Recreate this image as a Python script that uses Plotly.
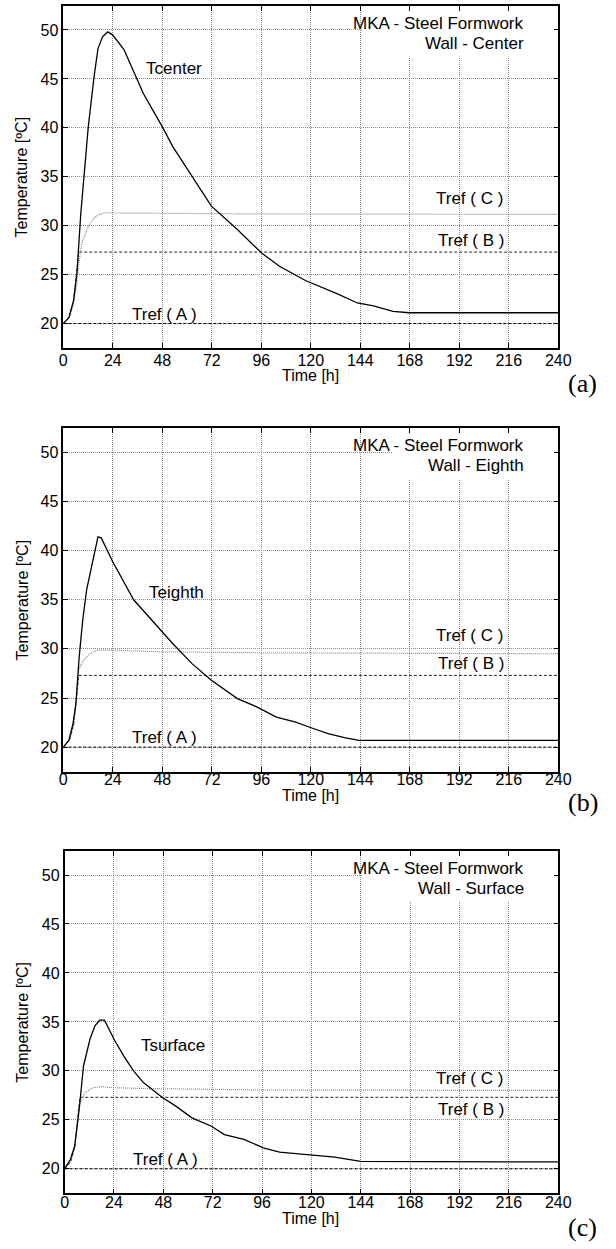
import plotly.graph_objects as go

# ---------------- data ----------------
x_ticks = [0, 24, 48, 72, 96, 120, 144, 168, 192, 216, 240]
y_ticks = [20, 25, 30, 35, 40, 45, 50]

# Panel (a) - Wall Center
t_center = [0, 2.7, 5.0, 6.6, 8.5, 9.75, 12.1, 14.9, 16.8, 19, 21.5, 23.9, 29.4, 38.8, 48.3, 53,
            62.4, 71.8, 84.4, 96.2, 104.8, 117.4, 133.2, 142.6, 150.4, 159.9, 167.7, 240]
T_center = [20, 20.6, 22.4, 25.2, 31.3, 34.7, 40.1, 45.2, 48.1, 49.3, 49.8, 49.5, 48.0, 43.5, 40.0, 38.1,
            35.0, 32.0, 29.6, 27.2, 25.85, 24.4, 23.0, 22.1, 21.8, 21.25, 21.1, 21.1]
t_refC_a = [0, 3, 5, 6.5, 7.4, 9, 12.1, 14.5, 16.8, 20, 23, 48, 96, 240]
T_refC_a = [20, 20.7, 22, 24, 25.85, 28.3, 29.9, 30.7, 31.1, 31.3, 31.3, 31.25, 31.2, 31.15]

# Panel (b) - Wall Eighth
t_eighth = [0, 2.7, 4.7, 6.1, 7.7, 9.4, 11.3, 13.7, 16.8, 18.4, 23.9, 34.1, 43.5, 53, 62.4, 71.8,
            84.4, 93.8, 103.3, 112.7, 119.8, 128.4, 136.3, 143.3, 240]
T_eighth = [20, 20.7, 22.4, 24.4, 29.2, 32.9, 36.0, 38.4, 41.4, 41.3, 38.9, 35.0, 32.75, 30.55, 28.5, 26.8,
            24.94, 24.1, 23.06, 22.55, 22.0, 21.37, 20.96, 20.68, 20.68]
t_refC_b = [0, 3, 5, 6.6, 7.4, 9.75, 12.9, 16.8, 23, 48, 96, 240]
T_refC_b = [20, 20.7, 22.2, 25.4, 27.8, 28.85, 29.5, 29.87, 29.87, 29.7, 29.6, 29.5]

# Panel (c) - Wall Surface
t_surface = [0, 2.8, 4.9, 7.1, 9.2, 12.3, 14.7, 17.0, 19.4, 24.1, 28.8, 33.6, 38.3, 44.6, 47.7, 54.1,
             61.9, 71.4, 77.7, 87.2, 96.6, 104.5, 117.1, 131.3, 143.9, 240]
T_surface = [20, 20.95, 22.3, 26.06, 30.5, 33.2, 34.57, 35.18, 35.18, 33.2, 31.5, 29.97, 28.8, 27.77, 27.26, 26.4,
             25.2, 24.35, 23.5, 23.0, 22.15, 21.7, 21.46, 21.2, 20.75, 20.7]
t_refC_c = [0, 3, 5, 6.8, 9.9, 13.9, 17.8, 24.1, 38.3, 96, 240]
T_refC_c = [20, 20.8, 22.3, 26.4, 27.77, 28.28, 28.38, 28.28, 28.2, 28.05, 28.0]

# shared reference temperatures
t_refB = [0, 3, 5, 6.5, 7.5, 240]
T_refB = [20, 20.7, 22.3, 25, 27.3, 27.3]
t_refA = [0, 240]
T_refA = [20, 20]

panels = [
    dict(t=t_center, T=T_center, tC=t_refC_a, TC=T_refC_a, name="Tcenter", sub="Wall - Center",
         name_pos=(53.75, 46.1), C_pos=32.8, B_pos=28.5, A_pos=20.9, letter="(a)"),
    dict(t=t_eighth, T=T_eighth, tC=t_refC_b, TC=T_refC_b, name="Teighth", sub="Wall - Eighth",
         name_pos=(54.9, 35.7), C_pos=31.4, B_pos=28.5, A_pos=21.0, letter="(b)"),
    dict(t=t_surface, T=T_surface, tC=t_refC_c, TC=T_refC_c, name="Tsurface", sub="Wall - Surface",
         name_pos=(52.9, 32.6), C_pos=29.2, B_pos=26.1, A_pos=21.0, letter="(c)"),
]

# ---------------- layout geometry (reference pixel positions) ----------------
W, H = 616, 1249
plot_px = [(6, 348), (428.3, 771.7), (851, 1193.3)]  # top, bottom in px
x_px = [(61, 570), (61, 570), (62.3, 570)]
tick_standoff = [-3, -8, -6]
title_off = [27, 24, 25]
letter_off = [35, 31, 34]

FONT = "Liberation Sans, Arial, Helvetica, sans-serif"
SERIF = "Liberation Serif, DejaVu Serif, Times New Roman, serif"

fig = go.Figure()
annotations = []
shapes = []

for i, p in enumerate(panels):
    k = "" if i == 0 else str(i + 1)
    xa, ya = "x" + k, "y" + k
    # reference lines
    fig.add_trace(go.Scatter(x=t_refA, y=T_refA, mode="lines", xaxis=xa, yaxis=ya,
                             line=dict(color="black", width=1, dash="3px,2px"), showlegend=False))
    fig.add_trace(go.Scatter(x=t_refB, y=T_refB, mode="lines", xaxis=xa, yaxis=ya,
                             line=dict(color="#222", width=1, dash="3px,2px"), showlegend=False))
    fig.add_trace(go.Scatter(x=p["tC"], y=p["TC"], mode="lines", xaxis=xa, yaxis=ya,
                             line=dict(color="#888", width=1.2, dash="1px,1px"), showlegend=False))
    fig.add_trace(go.Scatter(x=p["t"], y=p["T"], mode="lines", xaxis=xa, yaxis=ya,
                             line=dict(color="black", width=1.3), showlegend=False))

    top, bot = plot_px[i]
    x0, x1 = x_px[i]
    ydom = [1 - bot / H, 1 - top / H]
    xdom = [x0 / W, x1 / W]
    axis_common = dict(showline=True, linecolor="black", linewidth=1.5, mirror="ticks",
                       ticks="inside", ticklen=5, tickcolor="black", tickwidth=1,
                       showgrid=True, gridcolor="#8a8a8a", gridwidth=1, griddash="1px,1px",
                       zeroline=False, tickfont=dict(family=FONT, size=16, color="black"))
    fig.layout["xaxis" + k] = dict(axis_common, domain=xdom, range=[0, 240], tickvals=x_ticks,
                                   anchor=ya, ticklabelstandoff=tick_standoff[i])
    fig.layout["yaxis" + k] = dict(axis_common, domain=ydom, range=[17.5, 52.45], tickvals=y_ticks,
                                   anchor=xa)

    # white box behind the title text
    shapes.append(dict(type="rect", xref=xa, yref=ya, x0=145 if i != 1 else 160, x1=239,
                       y0=47.3, y1=52.4, fillcolor="white", line=dict(width=0), layer="between"))

    tf = dict(family=FONT, size=17, color="black")
    annotations += [
        dict(x=224.3, y=50.7, xref=xa, yref=ya, text="MKA - Steel Formwork", showarrow=False,
             xanchor="right", yanchor="middle", font=tf),
        dict(x=224.3, y=48.65, xref=xa, yref=ya, text=p["sub"], showarrow=False,
             xanchor="right", yanchor="middle", font=tf),
        dict(x=p["name_pos"][0], y=p["name_pos"][1], xref=xa, yref=ya, text=p["name"],
             showarrow=False, font=tf),
        dict(x=197, y=p["C_pos"], xref=xa, yref=ya, text="Tref ( C )", showarrow=False, font=tf),
        dict(x=197.5, y=p["B_pos"], xref=xa, yref=ya, text="Tref ( B )", showarrow=False, font=tf),
        dict(x=49.3, y=p["A_pos"], xref=xa, yref=ya, text="Tref ( A )", showarrow=False, font=tf),
        # axis titles
        dict(x=315.5 / W, y=1 - (bot + title_off[i]) / H, xref="paper", yref="paper", text="Time [h]",
             xanchor="center", yanchor="middle",
             showarrow=False, font=dict(family=FONT, size=16, color="black")),
        dict(x=19 / W, y=1 - (top + bot) / 2 / H, xref="paper", yref="paper",
             text="Temperature [ºC]", textangle=-90, showarrow=False,
             xanchor="center", yanchor="middle",
             font=dict(family=FONT, size=16, color="black")),
        dict(x=595 / W, y=1 - (bot + letter_off[i]) / H, xref="paper", yref="paper", text=p["letter"],
             xanchor="center", yanchor="middle",
             showarrow=False, font=dict(family=SERIF, size=26, color="black")),
    ]

fig.update_layout(width=W, height=H, autosize=False, margin=dict(l=0, r=0, t=0, b=0, pad=0),
                  paper_bgcolor="white", plot_bgcolor="white",
                  annotations=annotations, shapes=shapes, showlegend=False)

fig.write_html("out.html", config={"displayModeBar": False},
               post_script="document.body.style.margin='0px';"
                           "document.body.style.overflow='hidden';"
                           "document.documentElement.style.overflow='hidden';")
